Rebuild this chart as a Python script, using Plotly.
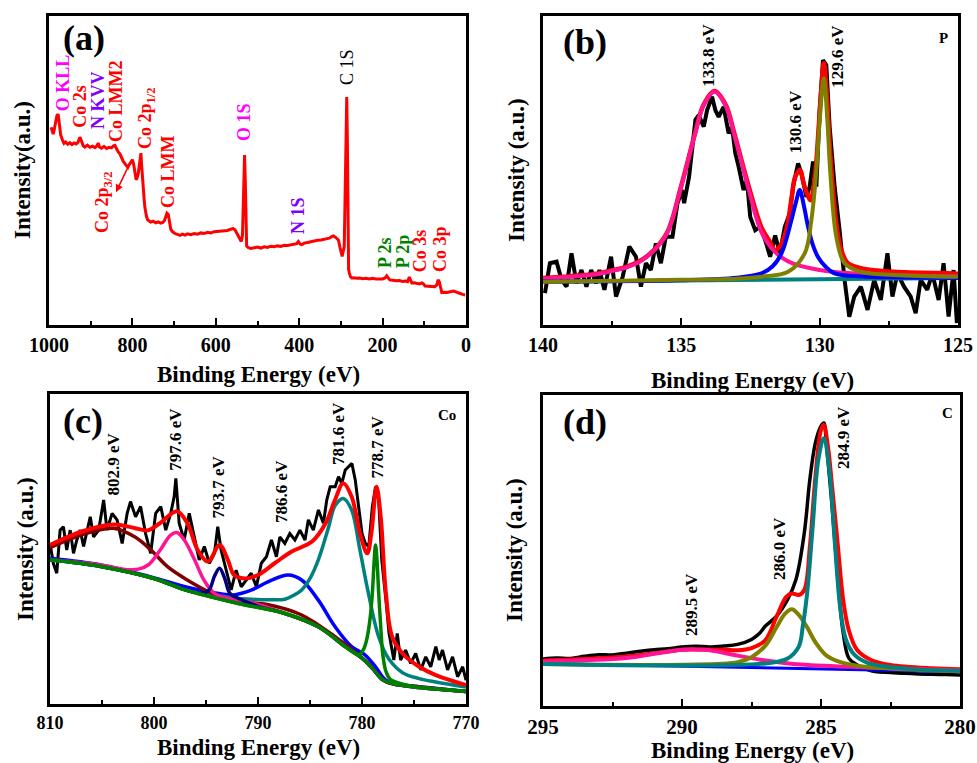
import plotly.graph_objects as go

FONT = "Liberation Serif"
W, H = 977, 763

# ---------------- (a) survey ----------------
a_energy = [995, 992, 990, 987, 984, 981, 978, 975, 972, 968, 964, 960, 955, 950, 945, 940, 935, 930, 926, 922,
            918, 914, 908, 902, 896, 890, 885, 882, 879, 874, 868, 862, 856, 850, 846, 842, 838, 834, 830, 826,
            822, 818, 814, 811, 808, 804, 800, 797, 794, 791, 789, 786, 783, 781, 779.5, 778, 776, 774, 772, 770,
            768, 766, 763, 760, 756, 750, 744, 738, 732, 727, 723, 720, 717, 714, 711, 708, 704, 698, 692, 686,
            680, 674, 668, 660, 652, 644, 636, 628, 620, 612, 604, 596, 588, 580, 572, 564, 558, 554, 550, 546,
            542, 539, 536, 534, 532.5, 531, 529.5, 528, 526, 522, 516, 508, 500, 492, 484, 476, 468, 460, 452, 444,
            436, 428, 420, 412, 406, 402, 398, 394, 388, 380, 372, 364, 356, 348, 340, 334, 328, 322, 318, 314,
            310, 306, 302, 299, 297, 295, 292, 289.5, 287.5, 286, 284.5, 283, 281.5, 279.6, 277, 274, 268, 262, 255, 248,
            240, 232, 224, 216, 208, 200, 194, 190, 187, 183, 176, 168, 160, 152, 145, 140, 136, 133, 130, 124,
            118, 112, 106, 102, 98, 90, 82, 75, 70, 67, 64, 61, 58, 52, 46, 40, 34, 30, 26, 20,
            14, 8, 2]
a_counts = [64.0, 62.5, 61.8, 63.5, 66, 67.8, 68.2, 65, 61.5, 60, 58.8, 59.2, 58.5, 59, 58.4, 58.9, 58.6, 59.2, 60.8, 59.5,
            58, 57.6, 58.2, 57.5, 57.9, 57.4, 58, 58.9, 57.6, 57.2, 57.8, 57.1, 57.5, 57.3, 57.9, 58.1, 57, 56, 55.4, 54,
            53, 52.2, 51.5, 51, 51.8, 52.7, 53.5, 52, 49, 47, 47.5, 49, 52, 55.2, 55.6, 52, 47, 44.5, 41, 38,
            35.8, 35, 34, 33.6, 33.3, 33.6, 33.1, 33.4, 33, 33.2, 33.8, 35, 36.2, 35.8, 33, 31, 30.2, 29.6, 29.3, 29,
            29.4, 29.1, 29.5, 29.2, 29.6, 29.4, 29.8, 29.6, 30, 29.8, 30.2, 30.3, 30.5, 30.7, 30.6, 31, 31.2, 30.8, 29.8, 28.5,
            27.3, 27, 29, 40, 52, 55, 48, 32, 25.5, 25, 24.8, 25, 25.2, 24.9, 25.3, 25.1, 25.5, 25.3, 25.6, 25.4,
            25.8, 25.7, 26, 26.1, 26.3, 27, 26.2, 26, 26.5, 26.7, 27, 27.1, 27.4, 27.5, 27.8, 28, 28.1, 28.6, 28.8, 28.5,
            27.9, 27.5, 25, 22.5, 22.2, 23.5, 25.3, 45, 70, 73.8, 60, 30, 18, 16.8, 15.6, 15.2, 15.3, 15.1, 15.2, 15,
            15.1, 14.9, 15.1, 14.9, 14.8, 14.9, 15.2, 15.9, 15.3, 14.6, 14.5, 14.3, 14.4, 14.1, 14.2, 14, 15.5, 14.5, 13.6, 13.7,
            13.4, 13.3, 13.6, 13.3, 12.6, 12.5, 12.4, 12.4, 13, 14.6, 14, 11.5, 10.5, 10.6, 10.5, 10.7, 10.8, 11, 10.8, 10.4,
            10.2, 9.9, 9.7]

# peak labels of the survey: text, energy, level, colour
a_labels = [
    ("O KLL", 966, 78.3, "#FF00FF"),
    ("Co 2s", 926, 70.9, "#FF0000"),
    ("N KVV", 882.5, 72.8, "#7F00FF"),
    ("Co LMM2", 839.3, 72.2, "#FF0000"),
    ("Co 2p<sub>1/2</sub>", 765, 67.0, "#FF0000"),
    ("Co LMM", 714.6, 49.5, "#FF0000"),
    ("Co 2p<sub>3/2</sub>", 870.5, 39.8, "#FF0000"),
    ("O 1S", 532.4, 65.7, "#FF00FF"),
    ("N 1S", 402.9, 35.6, "#7F00FF"),
    ("P 2s", 194.2, 23.3, "#008000"),
    ("P 2p", 151.0, 23.9, "#008000"),
    ("Co 3s", 110.3, 23.9, "#FF0000"),
    ("Co 3p", 62.4, 24.6, "#FF0000"),
]

# ---------------- (b) P 2p ----------------
b_black_x = [139.93, 139.75, 139.51, 139.33, 139.15, 138.97, 138.79, 138.61, 138.43, 138.26, 138.08, 137.96, 137.78,
             137.54, 137.36, 137.12, 136.88, 136.64, 136.46, 136.28, 136.10, 135.92, 135.74, 135.56, 135.32, 135.14,
             134.97, 134.90, 134.72, 134.61, 134.49, 134.37, 134.19, 134.07, 133.89, 133.77, 133.65, 133.47, 133.29,
             133.17, 133.05, 132.93, 132.75, 132.63, 132.51, 132.33, 132.15, 131.97, 131.79, 131.61, 131.44, 131.26,
             131.08, 130.96, 130.78, 130.66, 130.48, 130.36, 130.24, 130.12, 130.00, 129.88, 129.76, 129.64, 129.46,
             129.28, 129.10, 128.93, 128.75, 128.51, 128.27, 128.03, 127.79, 127.55, 127.37, 127.19, 126.95, 126.71,
             126.53, 126.35, 126.11, 125.93, 125.70, 125.52, 125.34, 125.16, 125.04]
b_black_y = [10.3, 20, 20.5, 14.6, 12.4, 23.2, 13.5, 17.8, 12.4, 17.8, 13.5, 17.8, 11.4,
             22.1, 9.2, 15.6, 25.4, 22.1, 12.4, 20, 17.8, 26.4, 20, 28.6, 28.6, 39.4,
             43.7, 39.4, 48, 55.6, 66.4, 67.9, 64.2, 69.5, 73.9, 69.5, 67.4, 70.6, 62,
             64.2, 55.6, 51.3, 43.7, 46.9, 35, 30.7, 31.8, 27.5, 22.1, 29, 23.2, 31.8,
             36.1, 44.8, 52.3, 49, 41.5, 44.8, 52.9, 44.8, 69.5, 85.7, 84.1, 64.2, 44.8,
             30.7, 14.6, 2.7, 9.2, 12.4, 4.9, 14.6, 8.1, 23.2, 9.2, 16.7, 12.4, 9.2,
             3.8, 14.6, 11.4, 16.7, 8.1, 20, 2.7, 17.8, 0.6]
b_base_x = [140, 125]
b_base_y = [14.0, 15.2]
b_pink_x = [140, 139, 138, 137.5, 137, 136.5, 136, 135.5, 135, 134.5, 134.2, 133.8, 133.4, 133.1, 132.6, 132.1,
            131.6, 131, 130, 129, 128, 127, 125]
b_pink_y = [15.0, 15.6, 16.5, 17.5, 18.6, 20.5, 24, 30, 45, 62, 71, 75.5, 71, 62, 45, 30,
            23.5, 20, 17.8, 16.8, 16.3, 16.0, 15.8]
b_blue_x = [140, 135, 133, 132.1, 131.7, 131.38, 131.02, 130.85, 130.72, 130.58, 130.42, 130.25, 130.06, 129.8,
            129.46, 128.5, 127, 125]
b_blue_y = [14.1, 14.5, 15.3, 16.7, 19, 23.2, 34, 40, 43.7, 39, 31.8, 26, 22, 19,
            16.7, 15.7, 15.4, 15.2]
b_olive_x = [140, 136, 133, 132.1, 131.14, 130.54, 130.3, 130.12, 130.0, 129.85, 129.72, 129.62, 129.4, 129.1,
             128.51, 127.31, 125]
b_olive_y = [14.0, 14.5, 15.0, 15.6, 17.2, 23.2, 34, 50, 66, 79.8, 66, 50, 28.6, 20,
             17.2, 16.2, 15.6]
b_red_x = [140, 139, 138, 137.5, 137, 136.5, 136, 135.5, 135, 134.5, 134.2, 133.8, 133.4, 133.1, 132.6, 132.1,
           131.8, 131.62, 131.4, 131.2, 131.0, 130.9, 130.72, 130.55, 130.33, 130.2, 130.12, 130.05, 129.95,
           129.85, 129.75, 129.62, 129.4, 129.22, 128.98, 128.51, 127.31, 125.16, 125]
b_red_y = [15.2, 15.8, 16.7, 17.7, 18.8, 20.7, 24.2, 30.2, 45.2, 62.2, 71.2, 75.7, 71.3, 62.5, 46, 31.5,
           27, 24.3, 26, 31, 42, 47.5, 50.2, 45, 40.4, 46, 53, 62, 75,
           84.7, 76, 56, 33, 24.3, 20, 18.4, 17.2, 16.7, 16.6]
b_labels = [("133.8 eV", 134.01, 87.4), ("130.6 eV", 130.85, 65.7), ("129.6 eV", 129.34, 87.1)]

# ---------------- (c) Co 2p ----------------
c_black_x = [810.00, 809.68, 809.35, 809.03, 808.71, 808.39, 808.06, 807.74, 807.42, 807.10, 806.77, 806.13, 805.81,
             805.32, 804.84, 804.52, 804.03, 803.55, 803.06, 802.58, 802.26, 801.77, 801.29, 800.81, 800.32, 799.84,
             799.35, 798.87, 798.39, 798.06, 797.90, 797.58, 797.10, 796.61, 796.13, 795.65, 795.16, 794.68, 794.19,
             793.87, 793.55, 793.06, 792.58, 792.10, 791.61, 791.13, 790.65, 790.16, 789.68, 789.19, 788.71, 788.23,
             787.90, 787.42, 786.94, 786.45, 785.97, 785.48, 785.16, 784.68, 784.19, 783.71, 783.39, 783.06, 782.58,
             782.26, 781.94, 781.61, 781.29, 780.97, 780.65, 780.32, 780.00, 779.68, 779.35, 779.00, 778.70, 778.40,
             778.10, 777.70, 777.40, 776.94, 776.61, 776.29, 775.81, 775.32, 774.84, 774.35, 773.87, 773.39, 772.90,
             772.58, 772.26, 771.77, 771.29, 770.81, 770.32, 770.00]
c_black_y = [51.8, 45.4, 42.2, 56.1, 57.2, 49.7, 56.1, 48.6, 52.9, 56.1, 50.8, 60.4, 53.9,
             56.1, 65.8, 56.1, 61.5, 59.4, 51.8, 61.5, 65.3, 60.4, 63.7, 55, 48.6, 61.5,
             63.7, 56.1, 61.5, 66.9, 72.8, 58.3, 52.9, 61.5, 53.9, 46.5, 50.8, 45.4, 48.6,
             57.2, 49.7, 43.2, 36.8, 43.2, 37.8, 40, 42.2, 37.8, 45.4, 47.5, 52.9, 47.5,
             53.9, 51.8, 55, 52.9, 56.1, 52.9, 59.4, 56.1, 62.6, 58.3, 65.8, 70.1, 70.1,
             73.3, 71.2, 75.5, 76.6, 77.6, 72.3, 63.7, 55, 51.8, 50.8, 63.7, 70.1, 65.8,
             46.5, 33.5, 22.8, 14.2, 22.8, 14.2, 17.4, 13.1, 16.3, 11, 15.2, 12, 18.5,
             14.2, 17.4, 11, 15.2, 8.8, 12, 7.7]
c_bg_x = [810, 805, 800, 797, 792, 787.4, 784.2, 781.6, 780, 779, 778, 777, 775, 772, 770]
c_bg_y = [46.5, 44.3, 40.5, 36.8, 32.5, 29.2, 24.9, 18.5, 14.8, 11.5, 7.8, 6.5, 5.5, 4.6, 4.0]
c_green_x = [810, 805, 800, 797, 792, 787.4, 784.2, 782, 781, 780.3, 779.8, 779.5, 779.2, 779.0, 778.85, 778.7,
             778.55, 778.4, 778.2, 778.0, 777.7, 777.3, 776.5, 775, 772, 770]
c_green_y = [46.5, 44.3, 40.5, 36.8, 32.5, 29.2, 24.9, 19.5, 17.0, 15.8, 18, 21.5, 28.2, 36, 45, 51.3,
             46, 36, 25, 16, 10.5, 8, 6.8, 5.6, 4.7, 4.1]
c_teal_x = [810, 805, 800, 797, 795, 793.9, 792, 790.6, 788.5, 787.4, 786.5, 785.8, 785, 784.2, 783.2, 782.6,
            781.8, 781, 780.2, 779.4, 778.4, 777.4, 776.1, 774.5, 772.9, 770]
c_teal_y = [46.5, 44.3, 40.5, 36.8, 35.4, 35.0, 34.0, 33.8, 33.6, 33.8, 35.2, 36.8, 40.5, 46.5, 57.2, 63.9,
            66.3, 62.6, 49.7, 36, 21.7, 14.4, 10.1, 8.2, 7.1, 5.5]
c_blue_x = [810, 805, 800.3, 797.1, 795, 793.9, 792.3, 790.6, 789, 787.1, 785.8, 784.2, 782.6, 781, 779.7, 778.7,
            777.7, 776, 773, 770]
c_blue_y = [47, 44.8, 41, 37.9, 36.3, 35.7, 35.2, 36.8, 39.5, 41.6, 40, 33.5, 25, 18.5, 15.8, 12,
            7.7, 6.1, 5.1, 4.0]
c_navy_x = [810, 805, 800, 797, 795.5, 794.7, 794.2, 793.7, 793.2, 792.7, 791.9, 790, 787.4, 784.2, 781.6, 780,
            779, 778, 777, 775, 772, 770]
c_navy_y = [46.5, 44.3, 40.5, 36.8, 35.7, 36.8, 41.1, 43.8, 40.5, 35.7, 34.1, 31.5, 29.2, 24.9, 18.5, 14.8,
            11.5, 7.8, 6.5, 5.5, 4.6, 4.0]
c_pink_x = [810, 805, 803, 801.5, 800.5, 799.4, 798.4, 797.8, 797.1, 796.1, 795.2, 794.2, 792.9, 791, 787.4,
            784.2, 781.6, 780, 779, 778, 777, 775, 772, 770]
c_pink_y = [46.5, 44.8, 43.5, 43.5, 45, 49.7, 54.5, 55.3, 53, 46.5, 40, 35.7, 34.1, 33, 29.2,
            24.9, 18.5, 14.8, 11.5, 7.8, 6.5, 5.5, 4.6, 4.0]
c_maroon_x = [810, 806.8, 803.9, 801.9, 800.3, 798.7, 796.8, 794.8, 792.3, 789, 785.8, 782.6, 779.4, 777.7,
              774.5, 770]
c_maroon_y = [50.4, 54.7, 56.7, 54, 49.7, 44.3, 40, 36.3, 33.3, 32, 28.7, 21.7, 13.1, 7.2,
              5.6, 4.0]
c_red_x = [810, 806.8, 803.9, 801.9, 800.6, 799.4, 797.8, 796.8, 795.8, 794.8, 793.7, 792.9, 792.3, 791.3, 790,
           788.4, 786.8, 784.8, 783.5, 782.6, 781.8, 781, 780.2, 779.5, 779.1, 778.6, 778.2, 777.7, 777.1,
           776.1, 774.5, 772.9, 770]
c_red_y = [51.3, 55.8, 57.9, 56.8, 56, 58.4, 62.2, 58.4, 49.7, 46, 51.3, 46.5, 41.6, 40.5, 41.6,
           45.4, 49.1, 52.4, 58.3, 65.8, 71.2, 66.9, 55.1, 48.6, 55.1, 70.1, 60.4, 35.7, 21.7,
           16.3, 12, 9.3, 6.1]
c_labels = [("802.9 eV", 803.9, 77.4), ("797.6 eV", 797.9, 85.5), ("793.7 eV", 793.8, 70.0),
            ("786.6 eV", 787.8, 68.7), ("781.6 eV", 782.2, 87.1), ("778.7 eV", 778.6, 82.9)]

# ---------------- (d) C 1s ----------------
d_black_x = [295, 294.5, 294, 293.5, 293, 292.5, 292, 291.5, 291, 290.5, 290, 289.5, 289, 288.5, 288, 287.5, 287.2,
             287, 286.6, 286.2, 285.9, 285.6, 285.4, 285.2, 285, 284.9, 284.8, 284.6, 284.4, 284.2, 284, 283.7,
             283.3, 283, 282.5, 282, 281.5, 281, 280.5, 280]
d_black_y = [15.1, 15.4, 15.3, 16, 16.5, 16.4, 17, 17.6, 18.1, 18.4, 19, 19.2, 19, 19.3, 19.8, 21.4, 23.5,
             25.7, 28.9, 34.3, 40.7, 55.7, 72.9, 84.7, 90, 91, 83.4, 64.1, 41.6, 23.4, 15.4, 13.2,
             11.6, 11, 10.8, 10.5, 10.3, 10.2, 10.1, 10]
d_base_x = [295, 280]
d_base_y = [13.7, 11.0]
d_pink_x = [295, 292, 291, 290, 289.5, 289, 288, 287, 286, 284, 280]
d_pink_y = [14.3, 15.4, 16.8, 18.1, 18.2, 17.9, 16.2, 14.6, 13.5, 12.6, 11.5]
d_olive_x = [295, 290, 288, 287.5, 287, 286.6, 286.3, 286.05, 285.8, 285.5, 285.2, 284.8, 284.3, 283.5, 280]
d_olive_y = [13.5, 13.3, 14.1, 15.7, 19.4, 25.3, 29.6, 31.1, 29.3, 25.3, 20.5, 16.2, 14.1, 12.7, 11.2]
d_teal_x = [295, 287, 286.2, 285.8, 285.65, 285.5, 285.3, 285.1, 284.9, 284.7, 284.5, 284.3, 284.1, 283.8, 283.3,
            282, 280]
d_teal_y = [13.5, 13.7, 15.3, 19.1, 26, 36.2, 57.6, 79, 86.1, 75.9, 52.2, 30.9, 21.3, 16.5, 13.8,
            12.1, 11.3]
d_red_x = [295, 292, 290, 289.5, 288.5, 288, 287.5, 287, 286.6, 286.25, 286.05, 285.8, 285.6, 285.4, 285.2, 285.0,
           284.9, 284.75, 284.6, 284.4, 284.2, 284.0, 283.7, 283.2, 282.5, 281, 280]
d_red_y = [14.6, 15.9, 18.1, 18.2, 18.1, 17.9, 18.6, 21.2, 28.7, 35.1, 36.2, 35.7, 37.3, 51.3, 73.8, 88.8,
           90.4, 83.4, 70.5, 52.2, 34, 24.4, 18, 14.8, 13.2, 12.1, 11.8]
d_labels = [("289.5 eV", 289.64, 32.5), ("286.0 eV", 286.47, 50.5), ("284.9 eV", 284.17, 86.2)]

# ---------------- figure ----------------
fig = go.Figure()


def line(ax, x, y, color, width, smooth=True):
    fig.add_trace(go.Scatter(
        x=x, y=y, xaxis="x" + ax, yaxis="y" + ax, mode="lines",
        line=dict(color=color, width=width, shape="spline" if smooth else "linear",
                  smoothing=1.0 if smooth else None),
        hoverinfo="skip", showlegend=False))


# (a)
line("", a_energy, a_counts, "#FF0000", 3, smooth=False)
# (b)
line("2", b_black_x, b_black_y, "#000000", 4, smooth=False)
line("2", b_base_x, b_base_y, "#008080", 4, smooth=False)
line("2", b_red_x, b_red_y, "#FF0000", 4.5)
line("2", b_pink_x, b_pink_y, "#FF1493", 4)
line("2", b_blue_x, b_blue_y, "#0000FF", 4)
line("2", b_olive_x, b_olive_y, "#808000", 4)
# (c)
line("3", c_black_x, c_black_y, "#000000", 3, smooth=False)
line("3", c_blue_x, c_blue_y, "#0000FF", 3.5)
line("3", c_teal_x, c_teal_y, "#008080", 3.5)
line("3", c_maroon_x, c_maroon_y, "#800000", 3.5)
line("3", c_pink_x, c_pink_y, "#FF1493", 3.5)
line("3", c_navy_x, c_navy_y, "#000080", 3.5)
line("3", c_green_x, c_green_y, "#008000", 3.5)
line("3", c_bg_x, c_bg_y, "#008000", 3.5)
line("3", c_red_x, c_red_y, "#FF0000", 4)
# (d)
line("4", d_black_x, d_black_y, "#000000", 3.5)
line("4", d_base_x, d_base_y, "#0000FF", 3, smooth=False)
line("4", d_red_x, d_red_y, "#FF0000", 4)
line("4", d_pink_x, d_pink_y, "#FF1493", 4)
line("4", d_olive_x, d_olive_y, "#808000", 4)
line("4", d_teal_x, d_teal_y, "#008080", 4)


def px(x):
    return x / W


def py(y):
    return 1 - y / H


def xaxis(dom, rng, dtick, minor, fsize, anchor):
    return dict(domain=[px(dom[0]), px(dom[1])], range=rng, anchor=anchor, automargin=False,
                showline=True, linewidth=3, linecolor="black", mirror=True,
                ticks="inside", ticklen=7, tickwidth=2, tickcolor="black", dtick=dtick, tick0=0,
                minor=dict(ticks="inside", ticklen=4, tickwidth=2, tickcolor="black", dtick=minor),
                showgrid=False, zeroline=False,
                tickfont=dict(family=FONT, size=fsize, color="black", weight="bold"))


def yaxis(dom, anchor):
    return dict(domain=[py(dom[1]), py(dom[0])], range=[0, 100], anchor=anchor, automargin=False,
                showline=True, linewidth=3, linecolor="black", mirror=True,
                ticks="", showticklabels=False, showgrid=False, zeroline=False)


fig.update_layout(
    template="none",
    width=W, height=H, autosize=False,
    margin=dict(l=0, r=0, t=0, b=0, pad=0, autoexpand=False),
    paper_bgcolor="white", plot_bgcolor="white",
    xaxis=xaxis((49, 466), [1000, 0], 200, 100, 20, "y"),
    yaxis=yaxis((16, 325), "x"),
    xaxis2=xaxis((543, 958), [140, 125], 5, 2.5, 20, "y2"),
    yaxis2=yaxis((16, 325), "x2"),
    xaxis3=xaxis((50, 466), [810, 770], 10, 5, 18, "y3"),
    yaxis3=yaxis((394, 704), "x3"),
    xaxis4=xaxis((543, 960), [295, 280], 5, 2.5, 21, "y4"),
    yaxis4=yaxis((395, 706), "x4"),
)

ann = []


def text(t, x, y, size, color="black", angle=0, xref="paper", yref="paper", bold=True):
    ann.append(dict(text=t, x=x, y=y, xref=xref, yref=yref, showarrow=False, textangle=angle,
                    xanchor="center", yanchor="middle",
                    font=dict(family=FONT, size=size, color=color, weight="bold" if bold else "normal")))


# axis titles
for cx, cy in [(258, 374), (752, 380), (258, 747), (752, 750)]:
    text("Binding Energy (eV)", px(cx), py(cy), 23)
text("Intensity(a.u.)", px(22), py(170), 23, angle=-90)
for cx, cy in [(516, 170), (25, 549), (514, 550)]:
    text("Intensity (a.u.)", px(cx), py(cy), 23, angle=-90)

# panel letters and element names
for t, cx, cy in [("(a)", 84, 38), ("(b)", 585, 42), ("(c)", 83, 421), ("(d)", 585, 422)]:
    text(t, px(cx), py(cy), 36)
for t, cx, cy in [("P", 943, 38), ("Co", 447, 415), ("C", 947, 413)]:
    text(t, px(cx), py(cy), 15)

# survey labels
for t, e, lv, col in a_labels:
    text(t, e, lv, 18, color=col, angle=-90, xref="x", yref="y")
text("C 1S", 285.4, 83.5, 18, angle=-90, xref="x", yref="y", bold=False)
ann.append(dict(x=839.3, y=43.0, ax=810.6, ay=51.1, xref="x", yref="y", axref="x", ayref="y",
                text="", showarrow=True, arrowhead=2, arrowsize=1, arrowwidth=1.5, arrowcolor="#FF0000"))

# fitted peak labels
for ref, labels in [("2", b_labels), ("3", c_labels), ("4", d_labels)]:
    for t, e, lv in labels:
        text(t, e, lv, 17, angle=-90, xref="x" + ref, yref="y" + ref)

fig.update_layout(annotations=ann)
fig.write_html("out.html", config={"displayModeBar": False},
               post_script="document.body.style.margin='0px';")
